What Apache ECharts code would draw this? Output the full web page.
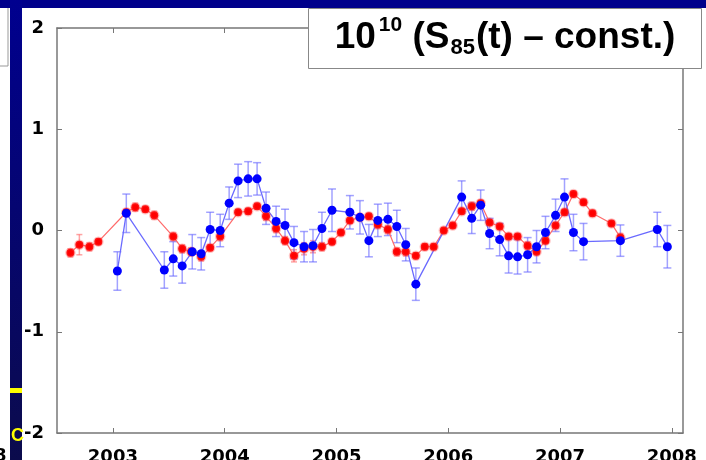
<!DOCTYPE html>
<html>
<head>
<meta charset="utf-8">
<script src="https://cdn.jsdelivr.net/npm/echarts@6/dist/echarts.min.js"></script>
<style>
  html, body { margin: 0; padding: 0; background: #fff; }
  #chart { width: 706px; height: 460px; }
</style>
</head>
<body>
<div id="chart"></div>
<script>
// monthly points, x in decimal years (middle of month)
const redX = [2002.62, 2002.70, 2002.79, 2002.87, 2003.12, 2003.20, 2003.29, 2003.37, 2003.54, 2003.62,
  2003.70, 2003.79, 2003.87, 2003.96, 2004.12, 2004.21, 2004.29, 2004.37, 2004.46, 2004.54,
  2004.62, 2004.71, 2004.79, 2004.87, 2004.96, 2005.04, 2005.12, 2005.21, 2005.29, 2005.37,
  2005.46, 2005.54, 2005.62, 2005.71, 2005.79, 2005.87, 2005.96, 2006.04, 2006.12, 2006.21,
  2006.29, 2006.37, 2006.46, 2006.54, 2006.62, 2006.71, 2006.79, 2006.87, 2006.96, 2007.04,
  2007.12, 2007.21, 2007.29, 2007.46, 2007.54];
const redY = [-0.22, -0.14, -0.16, -0.11, 0.18, 0.23, 0.21, 0.15, -0.06, -0.18,
  -0.21, -0.26, -0.17, -0.06, 0.18, 0.19, 0.24, 0.14, 0.02, -0.10,
  -0.25, -0.18, -0.16, -0.16, -0.11, -0.02, 0.10, 0.13, 0.14, 0.06,
  0.01, -0.21, -0.21, -0.25, -0.16, -0.16, 0.00, 0.05, 0.19, 0.24,
  0.27, 0.08, 0.04, -0.06, -0.06, -0.15, -0.21, -0.10, 0.05, 0.18,
  0.36, 0.28, 0.17, 0.07, -0.07];
const redErr = [0.04, 0.10, 0.04, 0.03, 0.03, 0.04, 0.03, 0.04, 0.04, 0.04,
  0.04, 0.04, 0.03, 0.04, 0.03, 0.03, 0.03, 0.04, 0.04, 0.04,
  0.06, 0.06, 0.06, 0.04, 0.03, 0.03, 0.03, 0.03, 0.03, 0.04,
  0.04, 0.04, 0.04, 0.03, 0.03, 0.03, 0.03, 0.03, 0.03, 0.04,
  0.03, 0.03, 0.03, 0.03, 0.03, 0.04, 0.03, 0.03, 0.03, 0.03,
  0.03, 0.03, 0.03, 0.03, 0.04];

const blueX = [2003.04, 2003.12, 2003.46, 2003.54, 2003.62, 2003.71, 2003.79, 2003.87, 2003.96, 2004.04,
  2004.12, 2004.21, 2004.29, 2004.37, 2004.46, 2004.54, 2004.62, 2004.71, 2004.79, 2004.87,
  2004.96, 2005.12, 2005.21, 2005.29, 2005.37, 2005.46, 2005.54, 2005.62, 2005.71, 2006.12,
  2006.21, 2006.29, 2006.37, 2006.46, 2006.54, 2006.62, 2006.71, 2006.79, 2006.87, 2006.96,
  2007.04, 2007.12, 2007.21, 2007.54, 2007.87, 2007.96];
const blueY = [-0.40, 0.17, -0.39, -0.28, -0.35, -0.21, -0.23, 0.01, 0.00, 0.27,
  0.49, 0.51, 0.51, 0.22, 0.09, 0.05, -0.12, -0.16, -0.15, 0.02,
  0.20, 0.18, 0.13, -0.10, 0.10, 0.11, 0.04, -0.14, -0.53, 0.33,
  0.12, 0.25, -0.03, -0.09, -0.25, -0.26, -0.24, -0.16, -0.02, 0.15,
  0.33, -0.02, -0.11, -0.10, 0.01, -0.16];
const blueErr = [0.19, 0.19, 0.18, 0.17, 0.17, 0.17, 0.16, 0.17, 0.16, 0.16,
  0.165, 0.17, 0.16, 0.16, 0.15, 0.16, 0.16, 0.15, 0.16, 0.16,
  0.21, 0.165, 0.165, 0.16, 0.16, 0.16, 0.16, 0.16, 0.16, 0.16,
  0.15, 0.15, 0.15, 0.16, 0.17, 0.17, 0.17, 0.16, 0.16, 0.16,
  0.18, 0.18, 0.18, 0.155, 0.17, 0.21];

const xTicks = [2003, 2004, 2005, 2006, 2007, 2008];
const yTicks = [-2, -1, 0, 1, 2];

// title pieces: [text, kind]
const titleParts = [['10', 'main'], ['10', 'sup'], [' (S', 'main'], ['85', 'sub'], ['(t) \u2013 const.)', 'main']];

const chart = echarts.init(document.getElementById('chart'));

function errorBars(xs, ys, errs, color, cap) {
  return {
    type: 'custom',
    silent: true,
    data: xs.map((x, i) => [x, ys[i], errs[i]]),
    renderItem: function (params, api) {
      const x = api.value(0), y = api.value(1), e = api.value(2);
      const lo = api.coord([x, y - e]);
      const hi = api.coord([x, y + e]);
      const st = { stroke: color, lineWidth: 1.5 };
      return {
        type: 'group',
        children: [
          { type: 'line', shape: { x1: lo[0], y1: lo[1], x2: hi[0], y2: hi[1] }, style: st },
          { type: 'line', shape: { x1: lo[0] - cap, y1: lo[1], x2: lo[0] + cap, y2: lo[1] }, style: st },
          { type: 'line', shape: { x1: hi[0] - cap, y1: hi[1], x2: hi[0] + cap, y2: hi[1] }, style: st }
        ]
      };
    }
  };
}

// lay the title out piece by piece, centred in its box
const fonts = {
  main: { font: 'bold 37px "Liberation Sans"', y: 38 },
  sup: { font: 'bold 21px "Liberation Sans"', y: 25 },
  sub: { font: 'bold 22px "Liberation Sans"', y: 48 }
};
const ctx = document.createElement('canvas').getContext('2d');
const widths = titleParts.map(p => { ctx.font = fonts[p[1]].font; return ctx.measureText(p[0]).width; });
const gaps = [3, 0, 1, 1, 0];
let total = widths.reduce((a, b) => a + b, 0) + gaps.reduce((a, b) => a + b, 0);
let tx = 505 - total / 2;
const titleTexts = titleParts.map((p, i) => {
  const el = { type: 'text', z: 101, style: { text: p[0], x: tx, y: fonts[p[1]].y, fill: '#000', font: fonts[p[1]].font, verticalAlign: 'middle' } };
  tx += widths[i] + gaps[i];
  return el;
});

const axisCol = '#777';
const tickFont = { fontFamily: 'DejaVu Sans', fontWeight: 'bold', fontSize: 18, color: '#000' };

chart.setOption({
  animation: false,
  backgroundColor: '#fff',
  grid: { left: 57, right: 23, top: 28, bottom: 27, containLabel: false, outerBoundsMode: 'none' },
  xAxis: [
    {
      type: 'value', min: 2002.5, max: 2008.1,
      axisLine: { onZero: false, lineStyle: { color: axisCol, width: 1.5 } },
      axisTick: { inside: true, length: 5, customValues: xTicks, lineStyle: { color: axisCol } },
      axisLabel: Object.assign({ customValues: xTicks, margin: 15, formatter: v => String(v) }, tickFont),
      splitLine: { show: false }
    },
    {
      type: 'value', position: 'top', min: 2002.5, max: 2008.1,
      axisLine: { onZero: false, lineStyle: { color: axisCol, width: 1.5 } },
      axisTick: { inside: true, length: 5, customValues: xTicks, lineStyle: { color: axisCol } },
      axisLabel: { show: false },
      splitLine: { show: false }
    }
  ],
  yAxis: [
    {
      type: 'value', min: -2, max: 2, interval: 1,
      axisLine: { show: true, onZero: false, lineStyle: { color: axisCol, width: 1.5 } },
      axisTick: { show: true, inside: true, length: 5, lineStyle: { color: axisCol } },
      axisLabel: Object.assign({ margin: 13 }, tickFont),
      splitLine: { show: false }
    },
    {
      type: 'value', position: 'right', min: -2, max: 2, interval: 1,
      axisLine: { show: true, onZero: false, lineStyle: { color: axisCol, width: 1.5 } },
      axisTick: { show: true, inside: true, length: 5, lineStyle: { color: axisCol } },
      axisLabel: { show: false },
      splitLine: { show: false }
    }
  ],
  series: [
    errorBars(redX, redY, redErr, 'rgba(255,90,90,0.55)', 3),
    {
      type: 'line',
      data: redX.map((x, i) => [x, redY[i]]),
      symbol: 'circle', symbolSize: 8,
      lineStyle: { color: '#ff6a6a', width: 1.2 },
      itemStyle: { color: '#ff0000', borderColor: 'rgba(255,60,60,0.3)', borderWidth: 2.5 }
    },
    errorBars(blueX, blueY, blueErr, 'rgba(100,100,255,0.6)', 4),
    {
      type: 'line',
      data: blueX.map((x, i) => [x, blueY[i]]),
      symbol: 'circle', symbolSize: 9,
      lineStyle: { color: '#6a6aff', width: 1.3 },
      itemStyle: { color: '#0000ff' }
    }
  ],
  graphic: [
    // slide border bits
    { type: 'rect', z: 100, shape: { x: 0, y: 0, width: 706, height: 8 }, style: { fill: '#00008b' } },
    {
      type: 'rect', z: 100, shape: { x: 10, y: 0, width: 12, height: 460 },
      style: {
        fill: new echarts.graphic.LinearGradient(0, 0, 0, 1, [
          { offset: 0, color: '#00008f' }, { offset: 1, color: '#0b0b4c' }
        ])
      }
    },
    { type: 'polyline', z: 100, shape: { points: [[0, 66], [8, 66], [8, 8]] }, style: { stroke: '#999', lineWidth: 1, fill: null } },
    { type: 'rect', z: 101, shape: { x: 10, y: 388, width: 12, height: 5 }, style: { fill: '#ffff00' } },
    { type: 'text', z: 101, style: { text: 'C', x: 11, y: 436, fill: '#ffff00', font: 'bold 18px "Liberation Sans"', verticalAlign: 'middle' } },
    { type: 'text', z: 99, style: { text: '8', x: -6, y: 456, fill: '#000', font: 'bold 18px "DejaVu Sans"', verticalAlign: 'middle' } },
    // title box
    { type: 'rect', z: 100, shape: { x: 308.5, y: 8.5, width: 393, height: 60 }, style: { fill: '#fff', stroke: '#888', lineWidth: 1 } }
  ].concat(titleTexts)
});
</script>
</body>
</html>
